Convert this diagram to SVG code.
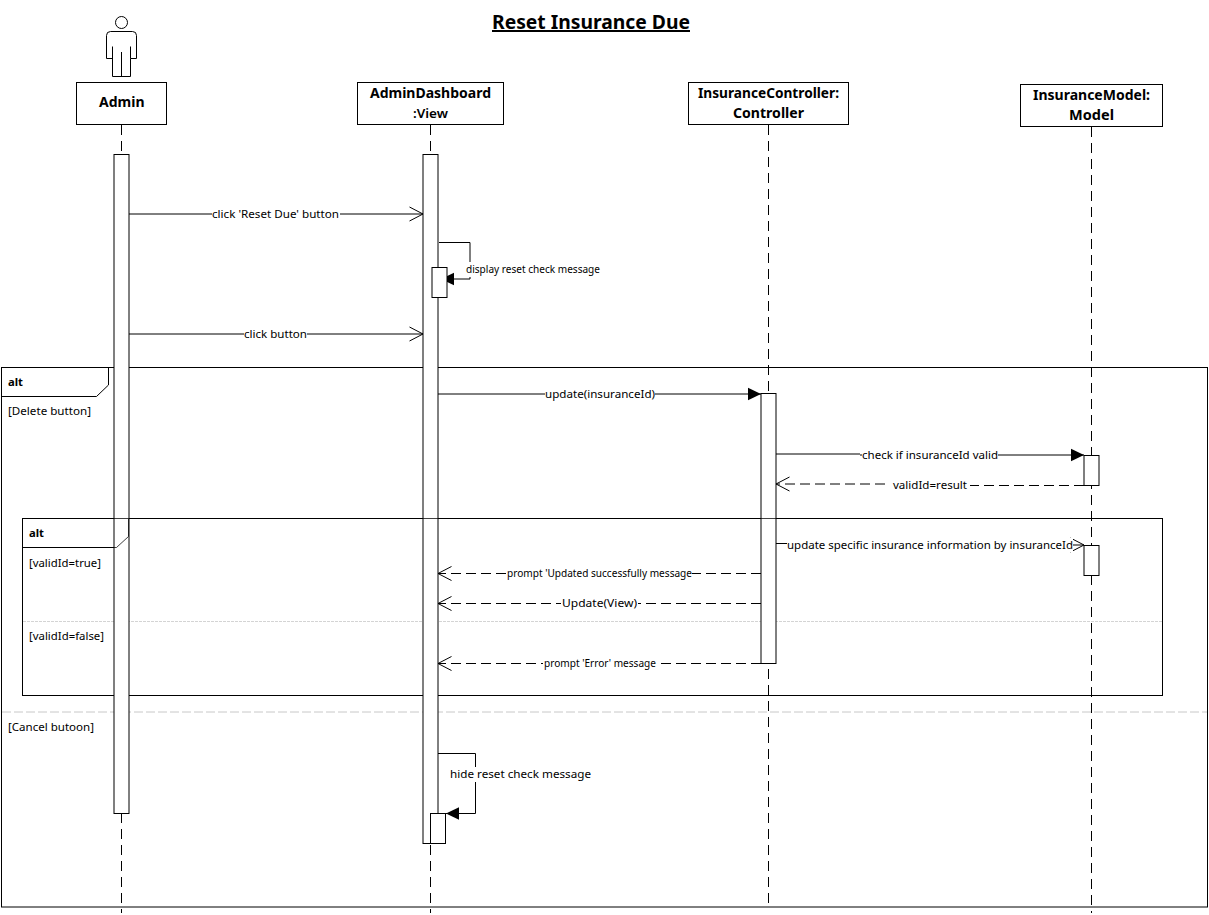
<svg xmlns="http://www.w3.org/2000/svg" width="1209" height="915" viewBox="0 0 1209 915">
<style>
text{font-family:"Noto Sans","Open Sans","Liberation Sans",sans-serif;fill:#000}
.m{font-size:11px;text-anchor:start}
.n{font-size:14px;font-weight:700}
.fr{fill:none;stroke:#000;stroke-width:1}
.box{fill:#fff;stroke:#000;stroke-width:1}
.bar{fill:#fff;stroke:#000;stroke-width:1}
.life{fill:none;stroke:#000;stroke-width:1;stroke-dasharray:10 6}
.line{fill:none;stroke:#000;stroke-width:1}
.dash{fill:none;stroke:#000;stroke-width:1;stroke-dasharray:10 5}
.bg{fill:#fff;stroke:none}
</style>
<defs>
<marker id="open" markerUnits="userSpaceOnUse" markerWidth="16" markerHeight="16" refX="14.5" refY="8" orient="auto"><path d="M1 1L14.5 8L1 15" fill="none" stroke="#000" stroke-width="1"/></marker>
<marker id="solid" markerUnits="userSpaceOnUse" markerWidth="14" markerHeight="14" refX="13" refY="7" orient="auto"><path d="M0 .8L13 7L0 13.2Z" fill="#000"/></marker>
</defs>

<g id="frames">
<rect class="fr" x="1.5" y="367.5" width="1206" height="539.5"/>
<path class="fr" d="M2 396.5H96.5L108.5 385V368"/>
<rect class="fr" x="22.5" y="518.5" width="1140" height="177"/>
<path class="fr" d="M23 547.5H116.5L128.5 536.5V519"/>
<path d="M23 621.5H1162" fill="none" stroke="#d4d4d4" stroke-width="1" stroke-dasharray="3 1"/>
<path d="M2 712H1207" fill="none" stroke="#c8c8c8" stroke-width="1" stroke-dasharray="9 3"/>
<text class="m" x="8" y="386" font-weight="700" textLength="15" lengthAdjust="spacingAndGlyphs" style="font-weight:700">alt</text>
<text class="m" x="8" y="415" textLength="83" lengthAdjust="spacingAndGlyphs">[Delete button]</text>
<text class="m" x="29" y="537" textLength="15" lengthAdjust="spacingAndGlyphs" style="font-weight:700">alt</text>
<text class="m" x="29" y="567" textLength="72" lengthAdjust="spacingAndGlyphs">[validId=true]</text>
<text class="m" x="29" y="640" textLength="75" lengthAdjust="spacingAndGlyphs">[validId=false]</text>
<text class="m" x="8" y="731" textLength="86" lengthAdjust="spacingAndGlyphs">[Cancel butoon]</text>
</g>

<text id="title" x="492" y="29" font-size="20" font-weight="700" text-decoration="underline" textLength="198" lengthAdjust="spacingAndGlyphs">Reset Insurance Due</text>

<g id="node-admin">
<circle class="box" cx="121.5" cy="22.5" r="6"/>
<path class="line" d="M106.5 58.5V35.5Q106.5 31.5 110.5 31.5H132.5Q136.5 31.5 136.5 35.5V58.5H130.5V46.5M130.5 58.5V76.5H112.5V46.5M112.5 58.5H106.5M121.5 52V76.5"/>
<path class="life" d="M121.5 125V913"/>
<rect class="box" x="76.5" y="82.5" width="90" height="42"/>
<text class="n" x="99" y="107" textLength="45.500" lengthAdjust="spacingAndGlyphs">Admin</text>
<rect class="bar" x="114" y="154.500" width="15" height="659"/>
</g>

<g id="node-view">
<path class="life" d="M430.500 125V913"/>
<rect class="box" x="357.500" y="82.500" width="146" height="42"/>
<text class="n" x="370" y="98" textLength="121" lengthAdjust="spacingAndGlyphs">AdminDashboard</text>
<text x="413" y="118" font-size="13" font-weight="600" textLength="35" lengthAdjust="spacingAndGlyphs">:View</text>
<rect class="bar" x="423" y="154.500" width="15" height="689"/>
</g>

<g id="node-controller">
<path class="life" d="M768.500 125V906"/>
<rect class="box" x="688.500" y="82.500" width="160" height="42"/>
<text class="n" x="698" y="98" textLength="141" lengthAdjust="spacingAndGlyphs">InsuranceController:</text>
<text class="n" x="733" y="118" textLength="71" lengthAdjust="spacingAndGlyphs">Controller</text>
<rect class="bar" x="761" y="393.500" width="15" height="270"/>
</g>

<g id="node-model">
<path class="life" d="M1091.500 127V913"/>
<rect class="box" x="1020.500" y="84.500" width="142" height="42"/>
<text class="n" x="1033" y="100" textLength="117" lengthAdjust="spacingAndGlyphs">InsuranceModel:</text>
<text class="n" x="1069" y="120" textLength="45" lengthAdjust="spacingAndGlyphs">Model</text>
<rect class="bar" x="1084" y="455.500" width="15" height="30"/>
<rect class="bar" x="1084" y="545.500" width="15" height="30"/>
</g>

<path id="inner-frame-top" class="fr" d="M22.500 518.500H1162.500M23 547.500H116.500L128.500 536.500V519" stroke-opacity=".75"/>

<g id="connectors">
<path class="line" d="M129 214H423" marker-end="url(#open)"/>
<rect class="bg" x="212" y="207" width="128" height="14"/>
<text class="m" x="212" y="218" textLength="127" lengthAdjust="spacingAndGlyphs">click 'Reset Due' button</text>

<path class="line" d="M439 242.500H470V279H441" marker-end="url(#solid)"/>
<rect class="bg" x="466" y="262" width="134" height="15"/>
<text class="m" x="466" y="273" textLength="134" lengthAdjust="spacingAndGlyphs">display reset check message</text>

<path class="line" d="M129 334H423" marker-end="url(#open)"/>
<rect class="bg" x="244" y="327" width="63" height="14"/>
<text class="m" x="244" y="338" textLength="63" lengthAdjust="spacingAndGlyphs">click button</text>

<path class="line" d="M438 394H761" marker-end="url(#solid)"/>
<rect class="bg" x="545" y="387" width="110" height="14"/>
<text class="m" x="545" y="398" textLength="110" lengthAdjust="spacingAndGlyphs">update(insuranceId)</text>

<path class="line" d="M776 454H860M860 455H1084" marker-end="url(#solid)"/>
<rect class="bg" x="862" y="447" width="136" height="15"/>
<text class="m" x="862" y="459" textLength="136" lengthAdjust="spacingAndGlyphs">check if insuranceId valid</text>

<path class="dash" d="M1084 485.500H930M930 484H776" marker-end="url(#open)"/>
<rect class="bg" x="890" y="477" width="80" height="15"/>
<text class="m" x="893" y="489" textLength="74" lengthAdjust="spacingAndGlyphs">validId=result</text>

<path class="line" d="M776 543.500H787M787 545H1084" marker-end="url(#open)"/>
<rect class="bg" x="787" y="538" width="286" height="14"/>
<text class="m" x="787" y="549" textLength="286" lengthAdjust="spacingAndGlyphs">update specific insurance information by insuranceId</text>

<path class="dash" d="M761 573.500H438" marker-end="url(#open)"/>
<rect class="bg" x="507" y="567" width="185" height="14"/>
<text class="m" x="507" y="577" textLength="185" lengthAdjust="spacingAndGlyphs">prompt 'Updated successfully message</text>

<path class="dash" d="M761 603.500H438" marker-end="url(#open)"/>
<rect class="bg" x="561" y="597" width="77" height="14"/>
<text class="m" x="562" y="607" textLength="75" lengthAdjust="spacingAndGlyphs">Update(View)</text>

<path class="dash" d="M761 663.500H438" marker-end="url(#open)"/>
<rect class="bg" x="543" y="657" width="114" height="14"/>
<text class="m" x="544" y="667" textLength="112" lengthAdjust="spacingAndGlyphs">prompt 'Error' message</text>

<path class="line" d="M438 753.500H475.500V813.500H446" marker-end="url(#solid)"/>
<rect class="bg" x="450" y="767" width="141" height="15"/>
<text class="m" x="450" y="778" textLength="141" lengthAdjust="spacingAndGlyphs">hide reset check message</text>
</g>

<g id="activations">
<rect class="bar" x="432" y="267.500" width="15" height="30"/>
<rect class="bar" x="430.500" y="813.500" width="15" height="30"/>
</g>
</svg>
